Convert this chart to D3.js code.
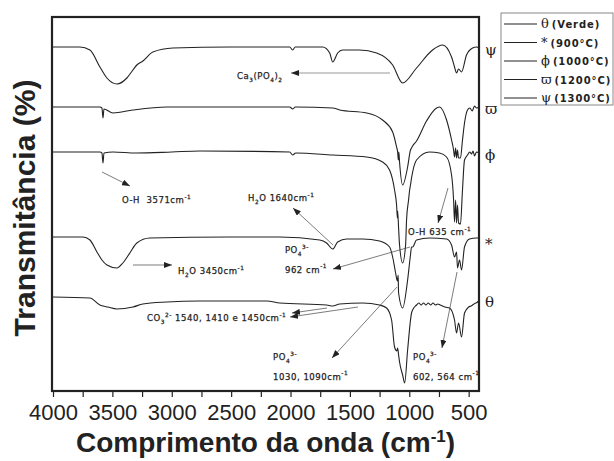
<!DOCTYPE html>
<html>
<head>
<meta charset="utf-8">
<script src="https://cdn.jsdelivr.net/npm/d3@7"></script>
<style>
  body { margin: 0; background: #fff; }
  svg { display: block; }
</style>
</head>
<body>
<div id="chart"></div>
<script>
// FTIR spectra: [wavenumber (cm-1), transmittance (a.u., curves stacked)]
const verde = [[4000,96],[3689,95],[3605,88],[3579,87],[3540,86],[3462,84],[3327,86],[3243,89],[3041,91],
  [2764,92],[2200,92],[2091,90],[1696,88],[1645,87],[1586,89],[1393,90],[1250,88],[1191,85],[1149,73],
  [1124,46],[1105,42],[1098,45],[1090,38],[1082,31],[1056,18],[1039,10],[1014,43],[981,80],[972,83],
  [939,88],[920,90],[900,88],[880,90],[860,88],[840,90],[820,88],[800,90],[780,88],[760,89],[740,88],
  [720,87],[700,86],[661,85],[619,73],[602,60],[585,70],[560,56],[535,80],[500,86],[480,87],[467,88],
  [455,89],[440,90],[425,91],[413,93]];

const t900 = [[4000,156],[3748,156],[3689,153],[3630,141],[3588,133],[3546,128],[3462,125],[3412,130],
  [3353,140],[3294,150],[3185,155],[2500,156],[2091,156],[1754,153],[1696,150],[1645,144],[1603,151],
  [1527,154],[1393,154],[1250,152],[1166,146],[1140,136],[1115,120],[1100,112],[1094,118],[1090,100],
  [1056,85],[1014,113],[990,138],[981,146],[972,146],[939,153],[830,155],[686,154],[644,148],[619,136],
  [602,141],[594,125],[577,133],[560,123],[535,146],[493,154],[434,155],[413,155]];

const t1000 = [[4000,241],[3605,241],[3588,240],[3579,230],[3571,240],[3495,241],[3300,240],[3000,241],
  [2764,242],[2007,241],[1982,238],[1956,240],[1645,238],[1359,236],[1225,231],[1166,223],[1124,203],
  [1107,188],[1100,175],[1098,182],[1090,165],[1082,148],[1056,130],[1031,148],[1023,173],[1006,193],
  [997,203],[990,208],[981,215],[939,233],[830,241],[746,240],[686,236],[644,218],[627,193],[619,171],
  [610,193],[602,170],[594,188],[585,170],[569,169],[552,203],[535,233],[510,238],[490,241],[476,239],
  [463,242],[451,237],[434,241],[413,240]];

const t1200 = [[4000,286],[3605,286],[3588,285],[3579,275],[3571,284],[3495,280],[3327,283],[3041,286],
  [2007,286],[1982,284],[1960,286],[1645,285],[1586,283],[1359,280],[1225,273],[1140,261],[1107,246],
  [1098,241],[1092,233],[1088,241],[1082,231],[1056,208],[1014,226],[990,243],[981,245],[972,247],
  [939,252],[855,272],[770,285],[746,286],[686,273],[644,253],[627,243],[619,236],[610,245],[602,235],
  [594,243],[585,235],[569,235],[552,253],[535,270],[510,283],[490,285],[470,282],[451,287],[434,285],
  [413,286]];

const t1300 = [[4000,346],[3773,346],[3689,343],[3605,326],[3546,315],[3462,309],[3378,315],[3327,323],
  [3294,328],[3243,332],[3159,341],[2991,345],[2500,346],[2007,346],[1982,343],[1960,346],[1729,346],
  [1670,340],[1645,331],[1603,340],[1561,343],[1418,343],[1275,340],[1140,328],[1056,310],[939,325],
  [804,343],[720,348],[644,336],[619,326],[602,320],[585,324],[560,321],[518,338],[467,345],[434,346],
  [413,345]];

const seriesData = [verde, t900, t1000, t1200, t1300];
const seriesSymbols = ["θ", "*", "ϕ", "ϖ", "ψ"];
const seriesNames = ["(Verde)", "(900°C)", "(1000°C)", "(1200°C)", "(1300°C)"];
const xTicks = [4000, 3500, 3000, 2500, 2000, 1500, 1000, 500];
const xMinorTicks = [3750, 3250, 2750, 2250, 1750, 1250, 750];

// band assignments (text anchor in wavenumber / a.u.)
const notes = [
  { at: [2451, 314], lines: [[["Ca"], ["3", "sub"], ["(PO"], ["4", "sub"], [")"], ["2", "sub"]]] },
  { at: [3419, 190], lines: [[["O-H  3571cm"], ["-1", "sup"]]] },
  { at: [2358, 192], lines: [[["H"], ["2", "sub"], ["O 1640cm"], ["-1", "sup"]]] },
  { at: [2047, 140], lines: [[["PO"], ["4", "sub"], ["3-", "sup"]], [["962 cm"], ["-1", "sup"]]] },
  { at: [2947, 119], lines: [[["H"], ["2", "sub"], ["O 3450cm"], ["-1", "sup"]]] },
  { at: [3208, 72], lines: [[["CO"], ["3", "sub"], ["2-", "sup"], [" 1540, 1410 e 1450cm"], ["-1", "sup"]]] },
  { at: [2147, 33], lines: [[["PO"], ["4", "sub"], ["3-", "sup"]], [["1030, 1090cm"], ["-1", "sup"]]] },
  { at: [1011, 158], lines: [[["O-H 635 cm"], ["-1", "sup"]]] },
  { at: [969, 33], lines: [[["PO"], ["4", "sub"], ["3-", "sup"]], [["602, 564 cm"], ["-1", "sup"]]] }
];
const arrows = [
  [[1162, 320], [1996, 320]],
  [[3587, 221], [3352, 207]],
  [[1642, 148], [1979, 185]],
  [[994, 146], [1642, 124]],
  [[3326, 128], [2998, 128]],
  [[1693, 85], [1988, 80]],
  [[1432, 86], [2004, 76]],
  [[1103, 106], [1651, 35]],
  [[674, 205], [758, 170]],
  [[598, 121], [725, 45]]
];

const W = 614, H = 461;
const frame = { left: 52, top: 17, right: 479, bottom: 391 };

const svg = d3.select("#chart").append("svg")
  .attr("width", W)
  .attr("height", H)
  .style("font-family", "'Liberation Sans', Arial, sans-serif");

svg.append("defs").append("marker")
  .attr("id", "head")
  .attr("markerUnits", "userSpaceOnUse")
  .attr("markerWidth", 8).attr("markerHeight", 6)
  .attr("refX", 8).attr("refY", 3)
  .attr("orient", "auto")
  .append("path")
  .attr("d", "M0,0L8,3L0,6Z")
  .attr("fill", "#222");

const x = d3.scaleLinear().domain([4000, 413]).range([53, frame.right]);
const y = d3.scaleLinear().domain([0, 375]).range([393, 18]);

const line = d3.line()
  .x(d => x(d[0]))
  .y(d => y(d[1]))
  .curve(d3.curveMonotoneX);

// spectra
svg.append("g")
  .selectAll("path")
  .data(seriesData)
  .join("path")
    .attr("d", d => line(d.slice().sort((a, b) => a[0] - b[0])))
    .attr("fill", "none")
    .attr("stroke", "#222")
    .attr("stroke-width", 1.1)
    .attr("stroke-linejoin", "round");

// symbols to the right of each curve
svg.append("g")
  .selectAll("text")
  .data(seriesData)
  .join("text")
    .attr("x", frame.right + 6)
    .attr("y", d => y(d[d.length - 1][1]))
    .attr("dy", (d, i) => i === 1 ? "0.75em" : "0.45em")
    .attr("font-family", "'DejaVu Serif', 'Liberation Serif', serif")
    .attr("font-size", 15)
    .attr("fill", "#222")
    .text((d, i) => seriesSymbols[i]);

// frame
svg.append("rect")
  .attr("x", frame.left)
  .attr("y", frame.top)
  .attr("width", frame.right - frame.left)
  .attr("height", frame.bottom - frame.top)
  .attr("fill", "none")
  .attr("stroke", "#222")
  .attr("stroke-width", 2.2);

// x axis
const xAxis = svg.append("g")
  .attr("transform", `translate(0,${frame.bottom})`)
  .call(d3.axisBottom(x).tickValues(xTicks).tickSize(6).tickPadding(7).tickFormat(d3.format("d")));
xAxis.select(".domain").remove();
xAxis.selectAll("line").attr("stroke", "#222").attr("stroke-width", 1.2);
xAxis.selectAll("text")
  .attr("font-size", 22)
  .attr("font-family", "'Liberation Sans', Arial, sans-serif")
  .attr("fill", "#222");

svg.append("g")
  .attr("transform", `translate(0,${frame.bottom})`)
  .call(d3.axisBottom(x).tickValues(xMinorTicks).tickSize(6).tickFormat(""))
  .call(g => g.select(".domain").remove())
  .selectAll("line").attr("stroke", "#222").attr("stroke-width", 1.2);

// axis titles
const xt = svg.append("text")
  .attr("x", (frame.left + frame.right) / 2)
  .attr("y", 452)
  .attr("text-anchor", "middle")
  .attr("font-size", 28)
  .attr("font-weight", "bold")
  .attr("fill", "#222");
xt.append("tspan").text("Comprimento da onda (cm");
xt.append("tspan").attr("font-size", 17).attr("dy", -10).text("-1");
xt.append("tspan").attr("dy", 10).text(")");

svg.append("text")
  .attr("transform", `translate(35,208) rotate(-90)`)
  .attr("text-anchor", "middle")
  .attr("font-size", 30)
  .attr("font-weight", "bold")
  .attr("fill", "#222")
  .text("Transmitância (%)");

// annotations
function rich(text, parts, size) {
  let shift = 0;
  parts.forEach(([t, kind]) => {
    const target = kind === "sub" ? 2.5 : kind === "sup" ? -4.5 : 0;
    text.append("tspan")
      .attr("dy", target - shift)
      .attr("font-size", kind ? size * 0.68 : size)
      .text(t);
    shift = target;
  });
}

const ann = svg.append("g")
  .attr("font-family", "'DejaVu Sans', sans-serif")
  .attr("letter-spacing", 0.55)
  .attr("fill", "#222")
  .attr("stroke", "#222")
  .attr("stroke-width", 0.25);
notes.forEach(n => {
  n.lines.forEach((parts, k) => {
    const t = ann.append("text")
      .attr("x", x(n.at[0]))
      .attr("y", y(n.at[1]) + k * 19.5)
      .attr("xml:space", "preserve");
    rich(t, parts, 8.5);
  });
});

svg.append("g")
  .selectAll("line")
  .data(arrows)
  .join("line")
    .attr("x1", d => x(d[0][0]))
    .attr("y1", d => y(d[0][1]))
    .attr("x2", d => x(d[1][0]))
    .attr("y2", d => y(d[1][1]))
    .attr("stroke", (d, i) => i === 0 ? "#999" : "#444")
    .attr("stroke-width", (d, i) => i === 0 ? 1.2 : 0.7)
    .attr("marker-end", "url(#head)");

// legend
const legend = svg.append("g").attr("transform", "translate(501,13)");
legend.append("rect")
  .attr("width", 112)
  .attr("height", 92)
  .attr("fill", "#fff")
  .attr("stroke", "#888")
  .attr("stroke-width", 1);
const rows = legend.selectAll("g")
  .data(seriesNames)
  .join("g")
    .attr("transform", (d, i) => `translate(0,${11 + i * 18.5})`);
rows.append("line")
  .attr("x1", 3).attr("x2", 36)
  .attr("stroke", "#222")
  .attr("stroke-width", 1.2);
const lt = rows.append("text")
  .attr("x", 40)
  .attr("y", 4)
  .attr("fill", "#222");
lt.append("tspan")
  .attr("font-family", "'DejaVu Serif', serif")
  .attr("font-size", 13)
  .text((d, i) => seriesSymbols[i]);
lt.append("tspan")
  .attr("dx", 3)
  .attr("font-family", "'DejaVu Sans', sans-serif")
  .attr("font-weight", "bold")
  .attr("font-size", 10)
  .attr("letter-spacing", 0.9)
  .text(d => d);
</script>
</body>
</html>
